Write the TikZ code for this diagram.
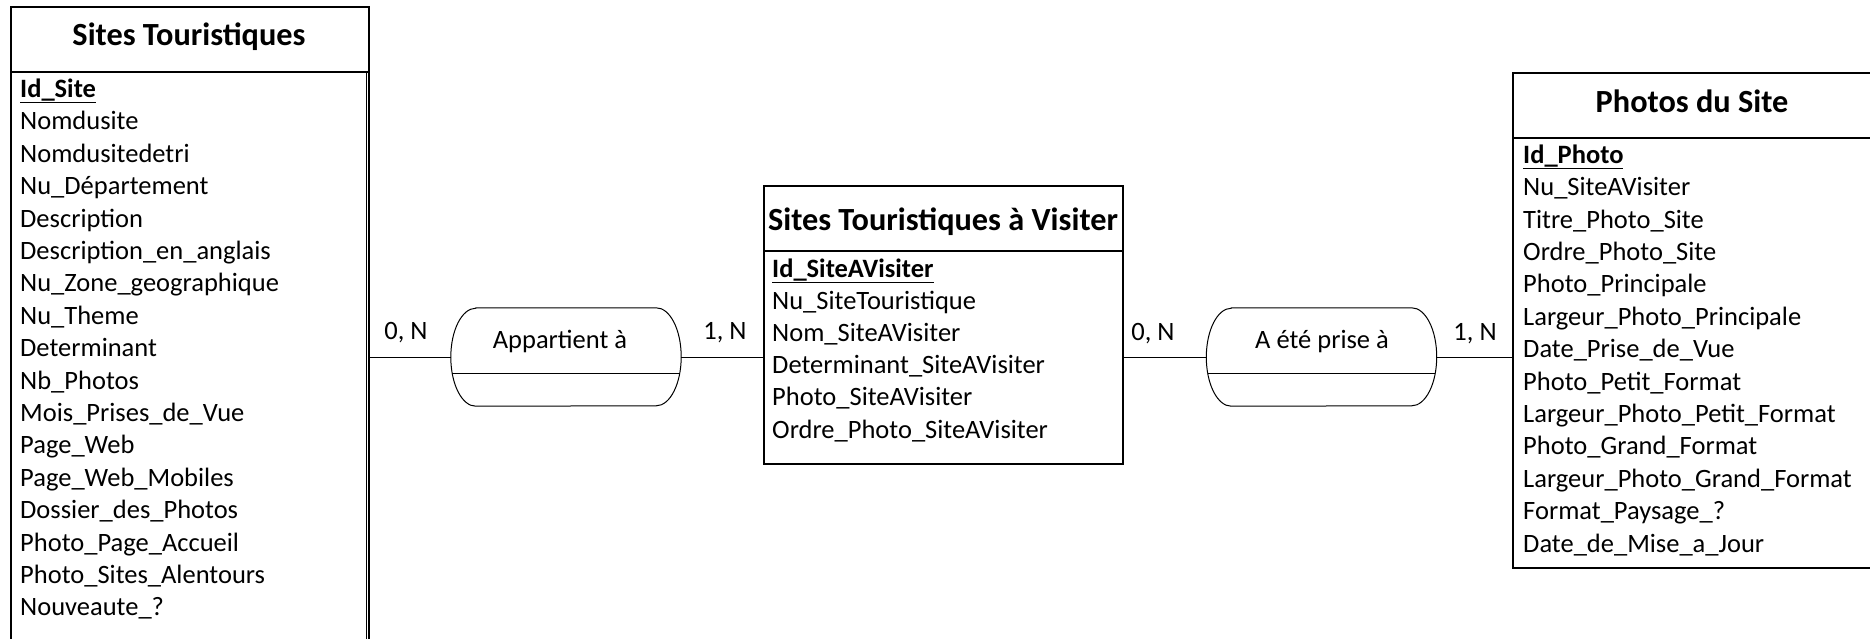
\documentclass[tikz,border=0pt]{standalone}
\usepackage{fontspec}
\setmainfont{Carlito}
\begin{document}
\begin{tikzpicture}[x=1pt,y=-1pt,
  box/.style={draw=black, line width=1.6pt, inner sep=0pt, anchor=north west},
  relarea/.style={inner sep=0pt, minimum width=230pt, minimum height=98pt},
  relline/.style={draw=black, line width=1pt},
  conn/.style={draw=black, line width=1pt},
  title/.style={font=\fontsize{32.3}{36}\selectfont\bfseries, anchor=base, inner sep=0pt},
  attr/.style={font=\fontsize{26.5}{32}\selectfont, anchor=base west, inner sep=0pt},
  lbl/.style={font=\fontsize{26.5}{32}\selectfont, anchor=base, inner sep=0pt}]
\useasboundingbox (0,0) rectangle (1870,638);
\clip (0,0) rectangle (1870,638);
\fill[white] (0,0) rectangle (1870,638);

% Sites Touristiques
\node[box, minimum width=358pt, minimum height=65pt] (stH) at (10,6) {};
\node[box, minimum width=358pt, minimum height=620pt] (stB) at (10,71) {};
\draw[line width=1.2pt] ([xshift=-3pt]stB.north east) -- ([xshift=-3pt]stB.south east);
\node[title] (stT) at (189,45) {Sites Touristiques};
\node[attr] (st0) at (20,97.5) {\underline{\bfseries Id\_Site}};
\foreach \t [count=\i] in {Nomdusite, Nomdusitedetri, Nu\_Département, Description, Description\_en\_anglais, Nu\_Zone\_geographique, Nu\_Theme, Determinant, Nb\_Photos, Mois\_Prises\_de\_Vue, Page\_Web, Page\_Web\_Mobiles, Dossier\_des\_Photos, Photo\_Page\_Accueil, Photo\_Sites\_Alentours, Nouveaute\_?}
  \node[attr] (st\i) at (20,97.5+32.4*\i) {\t};

% Sites Touristiques a Visiter
\node[box, minimum width=359pt, minimum height=65pt] (svH) at (763,185) {};
\node[box, minimum width=359pt, minimum height=213pt] (svB) at (763,250) {};
\node[title] (svT) at (943,230) {Sites Touristiques à Visiter};
\node[attr] (sv0) at (772,277) {\underline{\bfseries Id\_SiteAVisiter}};
\foreach \t [count=\i] in {Nu\_SiteTouristique, Nom\_SiteAVisiter, Determinant\_SiteAVisiter, Photo\_SiteAVisiter, Ordre\_Photo\_SiteAVisiter}
  \node[attr] (sv\i) at (772,277+32.2*\i) {\t};

% Photos du Site
\node[box, minimum width=362pt, minimum height=65pt] (phH) at (1512,72) {};
\node[box, minimum width=362pt, minimum height=430pt] (phB) at (1512,137) {};
\node[title] (phT) at (1692,112) {Photos du Site};
\node[attr] (ph0) at (1523,163.3) {\underline{\bfseries Id\_Photo}};
\foreach \t [count=\i] in {Nu\_SiteAVisiter, Titre\_Photo\_Site, Ordre\_Photo\_Site, Photo\_Principale, Largeur\_Photo\_Principale, Date\_Prise\_de\_Vue, Photo\_Petit\_Format, Largeur\_Photo\_Petit\_Format, Photo\_Grand\_Format, Largeur\_Photo\_Grand\_Format, Format\_Paysage\_?, Date\_de\_Mise\_a\_Jour}
  \node[attr] (ph\i) at (1523,163.3+32.4*\i) {\t};

% Relationships
\node[relarea] (ap) at (566,357) {};
\node[relarea] (pr) at (1321.5,357) {};
\foreach \r in {ap,pr}{
  \draw[relline] ([xshift=25pt]\r.north west) -- ([xshift=-25pt]\r.north east)
    arc[start angle=90, end angle=-90, x radius=25pt, y radius=49pt]
    -- ([xshift=25pt]\r.south west)
    arc[start angle=270, end angle=90, x radius=25pt, y radius=49pt] -- cycle;
  \draw[relline] ([shift={(1.4,16)}]\r.west) -- ([shift={(-1.4,16)}]\r.east);
}
\node[lbl] (apT) at (560,348) {Appartient à};
\node[lbl] (prT) at (1322,348) {A été prise à};

% Connectors
\draw[conn] (stB.east |- ap.west) -- (ap.west);
\draw[conn] (ap.east) -- (svB.west |- ap.east);
\draw[conn] (svB.east |- pr.west) -- (pr.west);
\draw[conn] (pr.east) -- (phB.west |- pr.east);

% Cardinalities
\node[lbl] (c1) at (406,339) {0, N};
\node[lbl] (c2) at (725,339) {1, N};
\node[lbl] (c3) at (1153,340) {0, N};
\node[lbl] (c4) at (1475,340) {1, N};
\end{tikzpicture}
\end{document}
